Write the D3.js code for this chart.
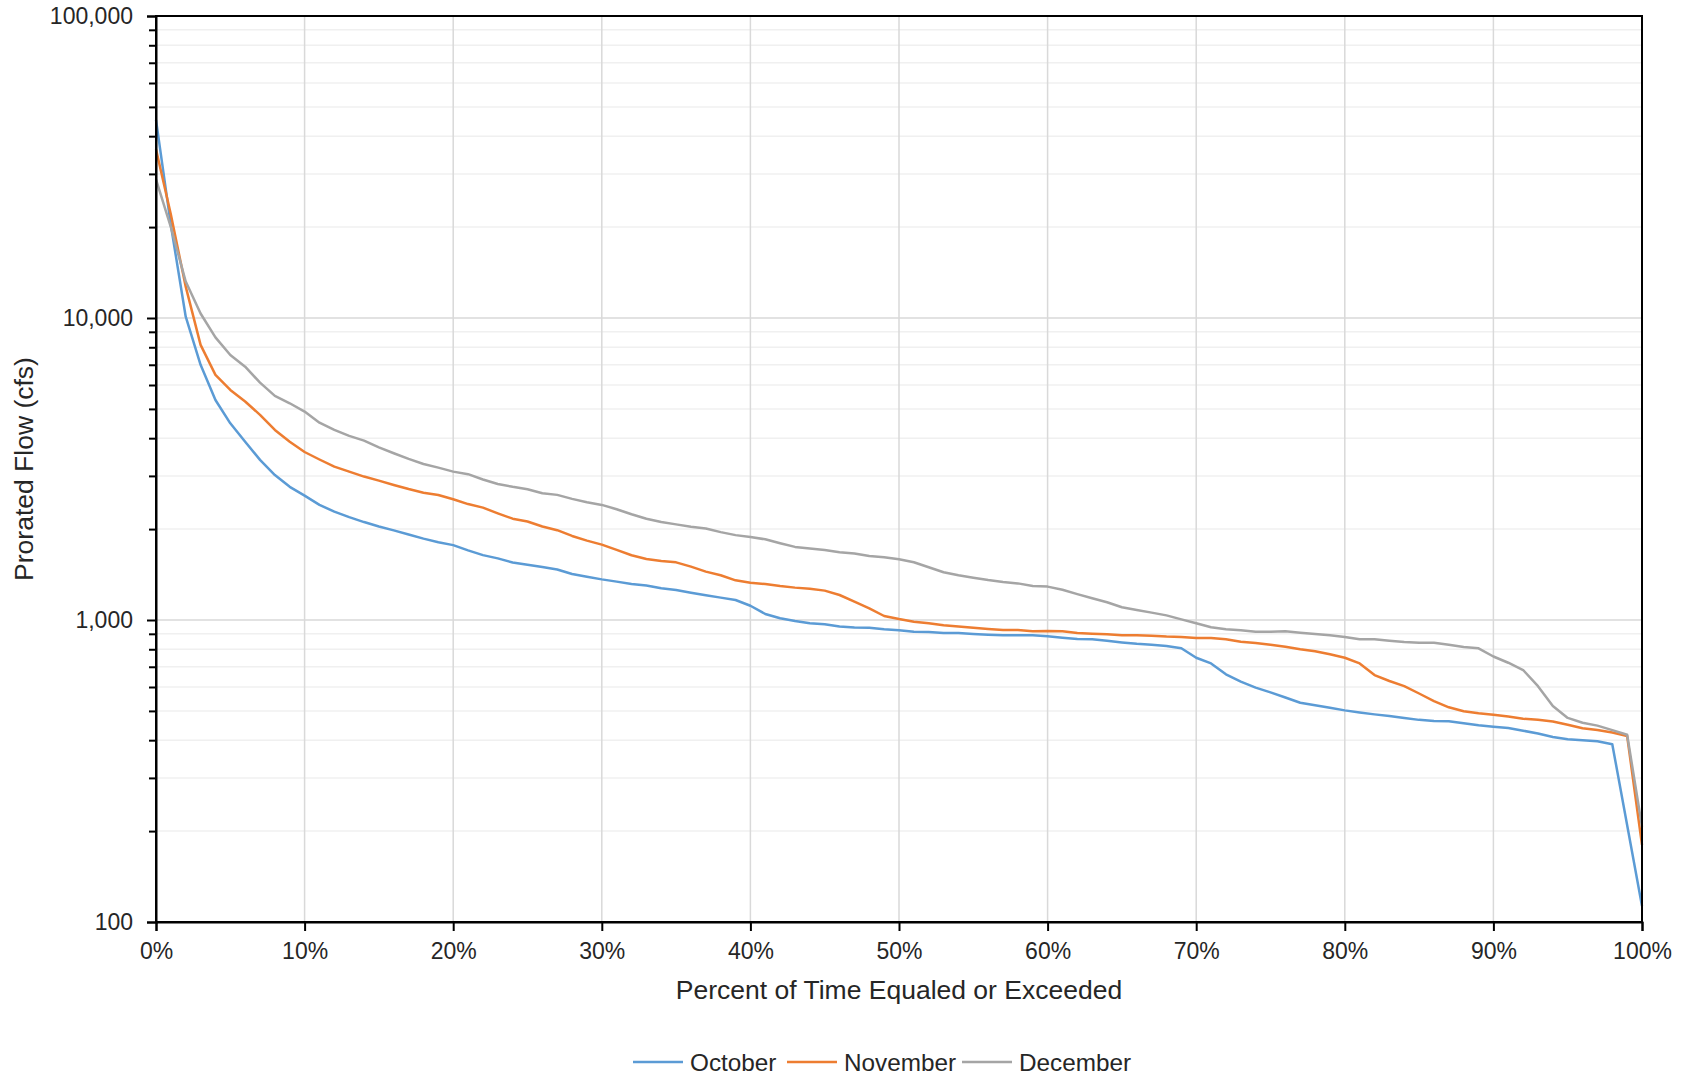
<!DOCTYPE html>
<html>
<head>
<meta charset="utf-8">
<script src="https://cdn.jsdelivr.net/npm/d3@7"></script>
<style>
  body { margin: 0; background: #fff; }
  svg { display: block; font-family: "Liberation Sans", Arial, sans-serif; }
</style>
</head>
<body>
<div id="chart"></div>
<script>
// percent of time equaled or exceeded, 0..100
var pct = d3.range(0, 101);

// prorated flow (cfs)
var october = [45300, 20300, 10100, 7000, 5350, 4480, 3890, 3390, 3020, 2760,
  2580, 2405, 2285, 2190, 2110, 2040, 1980, 1920, 1860, 1810,
  1770, 1700, 1640, 1600, 1550, 1525, 1497, 1470, 1420, 1390,
  1363, 1340, 1316, 1300, 1274, 1257, 1231, 1207, 1186, 1165,
  1115, 1047, 1013, 993, 976, 968, 951, 944, 942, 932,
  925, 915, 913, 906, 906, 899, 894, 890, 890, 890,
  883, 874, 865, 863, 854, 843, 834, 828, 820, 806,
  750, 718, 661, 625, 597, 576, 554, 532, 522, 512,
  502, 494, 487, 481, 474, 467, 463, 462, 455, 448,
  443, 439, 430, 421, 410, 403, 400, 397, 388, null,
  113];

var november = [36200, 22000, 12700, 8150, 6480, 5780, 5290, 4780, 4260, 3890,
  3600, 3400, 3220, 3100, 2985, 2895, 2800, 2715, 2640, 2593,
  2510, 2420, 2355, 2255, 2165, 2120, 2040, 1983, 1898, 1832,
  1776, 1706, 1638, 1593, 1568, 1552, 1502, 1446, 1406, 1353,
  1328, 1316, 1296, 1280, 1270, 1251, 1210, 1150, 1093, 1031,
  1007, 987, 975, 960, 951, 942, 934, 927, 927, 918,
  920, 918, 906, 901, 897, 890, 890, 887, 881, 879,
  872, 872, 863, 847, 839, 828, 816, 800, 788, 770,
  750, 718, 657, 628, 604, 571, 539, 514, 499, 491,
  486, 479, 471, 467, 461, 450, 438, 432, 424, 413,
  180];

var december = [28800, 20000, 13200, 10350, 8630, 7540, 6900, 6110, 5520, 5220,
  4900, 4500, 4260, 4070, 3925, 3730, 3565, 3415, 3285, 3195,
  3100, 3040, 2920, 2820, 2760, 2709, 2628, 2596, 2518, 2454,
  2405, 2327, 2240, 2165, 2110, 2073, 2036, 2010, 1954, 1910,
  1883, 1850, 1795, 1746, 1724, 1706, 1676, 1660, 1630, 1614,
  1589, 1553, 1495, 1439, 1406, 1381, 1356, 1335, 1322, 1296,
  1290, 1259, 1218, 1180, 1145, 1102, 1080, 1058, 1036, 1005,
  975, 946, 932, 925, 915, 915, 918, 908, 899, 890,
  879, 863, 863, 854, 845, 841, 841, 828, 814, 806,
  757, 722, 683, 604, 519, 474, 457, 447, 432, 417,
  207];

var seriesNames = ["October", "November", "December"];
var seriesColors = ["#5b9bd5", "#ed7d31", "#a5a5a5"];
var seriesValues = [october, november, december];

var xTicks = d3.range(0, 101, 10);
var yMajor = [100, 1000, 10000, 100000];

var width = 1690, height = 1077;
var margin = {left: 156, right: 48, top: 16, bottom: 155};

var svg = d3.select("#chart").append("svg")
  .attr("width", width)
  .attr("height", height);

var x = d3.scaleLinear().domain([0, 100]).range([margin.left, width - margin.right]);
var y = d3.scaleLog().domain([100, 100000]).range([height - margin.bottom, margin.top]);

// minor values 200..900, 2000..9000 etc
var yMinor = [];
yMajor.slice(0, 3).forEach(function(m) {
  for (var k = 2; k <= 9; k++) yMinor.push(m * k);
});

var grid = svg.append("g");
grid.selectAll(".minor").data(yMinor).enter().append("line")
  .attr("x1", x(0)).attr("x2", x(100))
  .attr("y1", function(d) { return y(d); })
  .attr("y2", function(d) { return y(d); })
  .attr("stroke", "#f0f0f0").attr("stroke-width", 1.5);

grid.selectAll(".vert").data(xTicks.slice(1, -1)).enter().append("line")
  .attr("y1", y(100)).attr("y2", y(100000))
  .attr("x1", function(d) { return x(d); })
  .attr("x2", function(d) { return x(d); })
  .attr("stroke", "#d9d9d9").attr("stroke-width", 1.5);

grid.selectAll(".major").data(yMajor.slice(1, -1)).enter().append("line")
  .attr("x1", x(0)).attr("x2", x(100))
  .attr("y1", function(d) { return y(d); })
  .attr("y2", function(d) { return y(d); })
  .attr("stroke", "#d9d9d9").attr("stroke-width", 1.5);

// the lines
var line = d3.line()
  .x(function(d) { return x(d.p); })
  .y(function(d) { return y(d.v); });

seriesValues.forEach(function(vals, i) {
  var pts = pct.map(function(p, j) { return {p: p, v: vals[j]}; })
    .filter(function(d) { return d.v != null; });
  svg.append("path")
    .datum(pts)
    .attr("d", line)
    .attr("fill", "none")
    .attr("stroke", seriesColors[i])
    .attr("stroke-width", 2.5)
    .attr("stroke-linejoin", "round");
});

// frame
svg.append("rect")
  .attr("x", x(0)).attr("y", y(100000))
  .attr("width", x(100) - x(0)).attr("height", y(100) - y(100000))
  .attr("fill", "none").attr("stroke", "#000").attr("stroke-width", 2);

// axes
var yAxis = d3.axisLeft(y).tickValues(yMajor).tickFormat(d3.format(",")).tickSize(9).tickPadding(14);
var gy = svg.append("g").attr("transform", "translate(" + x(0) + ",0)").call(yAxis);

svg.append("g").attr("transform", "translate(" + x(0) + ",0)")
  .call(d3.axisLeft(y).tickValues(yMinor).tickFormat("").tickSize(7))
  .call(function(g) { g.select(".domain").remove(); });

var xAxis = d3.axisBottom(x).tickValues(xTicks).tickFormat(function(d) { return d + "%"; }).tickSize(9).tickPadding(12);
var gx = svg.append("g").attr("transform", "translate(0," + y(100) + ")").call(xAxis);

svg.selectAll(".tick line").attr("stroke", "#000").attr("stroke-width", 2);
svg.selectAll(".domain").attr("stroke", "#000").attr("stroke-width", 2);
svg.selectAll(".tick text")
  .attr("font-size", "23px")
  .attr("fill", "#262626")
  .attr("font-family", "Liberation Sans, Arial, sans-serif");

// titles
svg.append("text")
  .attr("x", (x(0) + x(100)) / 2)
  .attr("y", 999)
  .attr("text-anchor", "middle")
  .attr("font-size", "26.5px")
  .attr("fill", "#262626")
  .text("Percent of Time Equaled or Exceeded");

svg.append("text")
  .attr("transform", "translate(33," + ((y(100) + y(100000)) / 2) + ") rotate(-90)")
  .attr("text-anchor", "middle")
  .attr("font-size", "26.5px")
  .attr("fill", "#262626")
  .text("Prorated Flow (cfs)");

// legend
var legendX = [633, 787, 962];
var legend = svg.append("g");
seriesNames.forEach(function(name, i) {
  var g = legend.append("g").attr("transform", "translate(" + legendX[i] + ",1062)");
  g.append("line").attr("x1", 0).attr("x2", 50).attr("y1", 0).attr("y2", 0)
    .attr("stroke", seriesColors[i]).attr("stroke-width", 2.5);
  g.append("text").attr("x", 57).attr("y", 8.5)
    .attr("font-size", "24.3px").attr("fill", "#262626")
    .text(name);
});
</script>
</body>
</html>
